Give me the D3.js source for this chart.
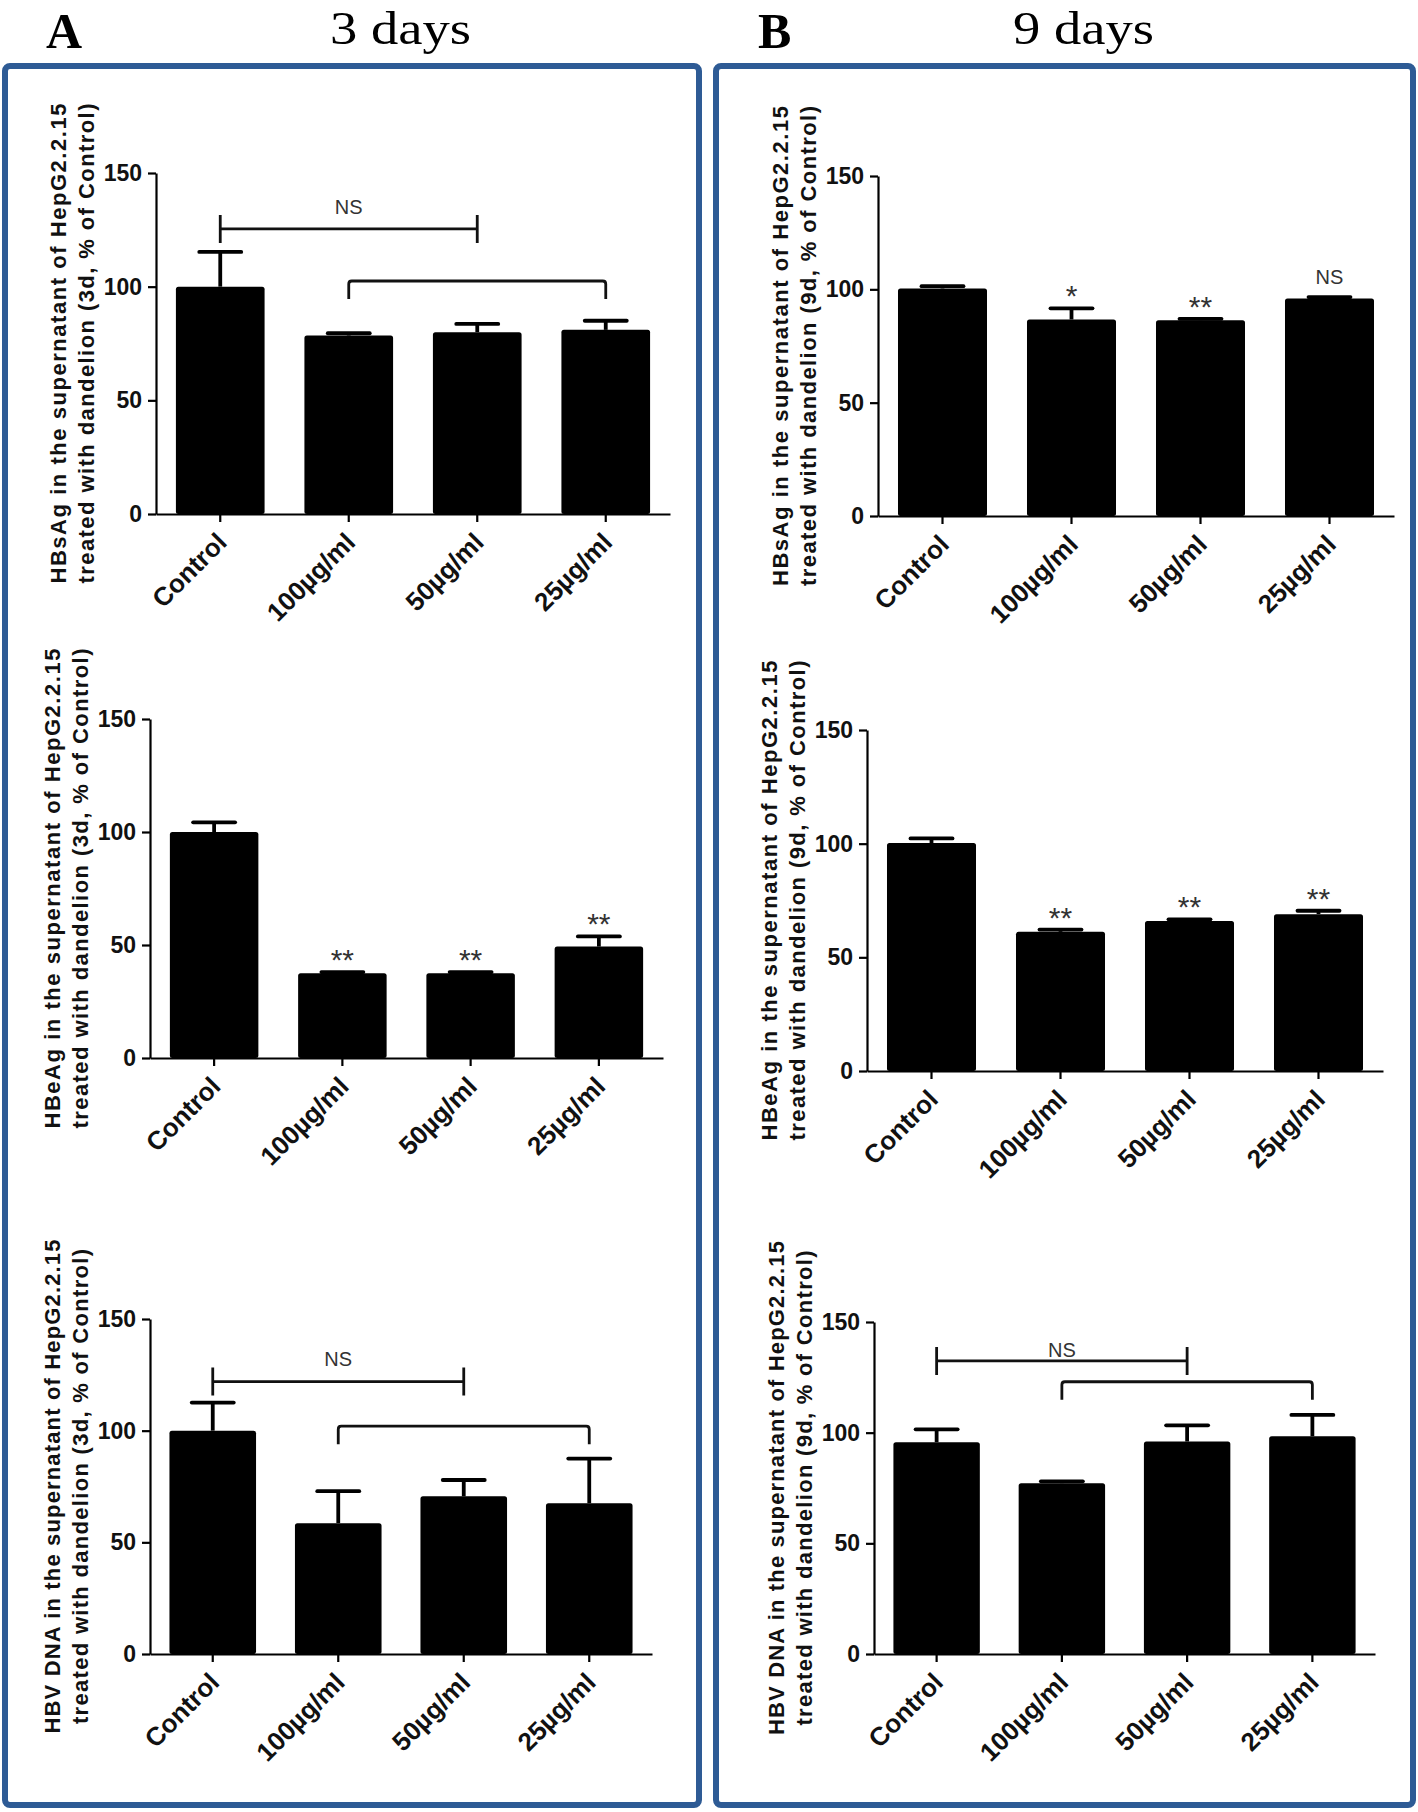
<!DOCTYPE html>
<html><head><meta charset="utf-8">
<script src="https://cdn.jsdelivr.net/npm/d3@7"></script>
<style>body{margin:0;background:#fff;} svg{display:block;}</style>
</head><body>
<svg id="fig" width="1418" height="1812"></svg>
<script>
// ---------------- data ----------------
const categories = ["Control", "100µg/ml", "50µg/ml", "25µg/ml"];
const yTicks = [0, 50, 100, 150];
const panelLetters = ["A", "B"];
const panelTitles = ["3 days", "9 days"];

const hbsag3dMean = [100, 78.5, 80, 81];
const hbsag3dErr  = [15.3, 1, 3.6, 4];
const hbsag9dMean = [100.4, 86.7, 86.4, 96];
const hbsag9dErr  = [1, 4.9, 0.6, 0.6];
const hbsag9dSig  = ["", "*", "**", "NS"];

const hbeag3dMean = [100, 37.5, 37.5, 49.3];
const hbeag3dErr  = [4.3, 0.5, 0.5, 4.5];
const hbeag3dSig  = ["", "**", "**", "**"];
const hbeag9dMean = [100.3, 61.2, 66, 69];
const hbeag9dErr  = [2, 1, 0.7, 1.5];
const hbeag9dSig  = ["", "**", "**", "**"];

const hbv3dMean = [100, 58.6, 70.6, 67.5];
const hbv3dErr  = [12.6, 14.3, 7.3, 20];
const hbv9dMean = [95.7, 77.2, 96, 98.4];
const hbv9dErr  = [5.8, 0.8, 7.3, 9.6];

const hbsag3dBrackets = [
  {from: "Control", to: "50µg/ml", value: 125.4, type: "ns", label: "NS", labelValue: 135},
  {from: "100µg/ml", to: "25µg/ml", value: 102.5, type: "group"}
];
const hbv3dBrackets = [
  {from: "Control", to: "50µg/ml", value: 122, type: "ns", label: "NS", labelValue: 132},
  {from: "100µg/ml", to: "25µg/ml", value: 102, type: "group"}
];
const hbv9dBrackets = [
  {from: "Control", to: "50µg/ml", value: 132.4, type: "ns", label: "NS", labelValue: 137.5},
  {from: "100µg/ml", to: "25µg/ml", value: 123, type: "group"}
];

const titleHBsAg3d = ["HBsAg in the supernatant of HepG2.2.15", "treated with dandelion (3d, % of Control)"];
const titleHBsAg9d = ["HBsAg in the supernatant of HepG2.2.15", "treated with dandelion (9d, % of Control)"];
const titleHBeAg3d = ["HBeAg in the supernatant of HepG2.2.15", "treated with dandelion (3d, % of Control)"];
const titleHBeAg9d = ["HBeAg in the supernatant of HepG2.2.15", "treated with dandelion (9d, % of Control)"];
const titleHBV3d   = ["HBV DNA in the supernatant of HepG2.2.15", "treated with dandelion (3d, % of Control)"];
const titleHBV9d   = ["HBV DNA in the supernatant of HepG2.2.15", "treated with dandelion (9d, % of Control)"];

// ---------------- layout ----------------
const SANS = "'Liberation Sans', Arial, Helvetica, sans-serif";
const SERIF = "'Liberation Serif', 'Times New Roman', serif";
const svg = d3.select("#fig");

const charts = [
  {left: 156, right: 670, top: 173, bottom: 514, mean: hbsag3dMean, err: hbsag3dErr, title: titleHBsAg3d, brackets: hbsag3dBrackets, tl: [480, 480]},
  {left: 150, right: 663, top: 719, bottom: 1058, mean: hbeag3dMean, err: hbeag3dErr, title: titleHBeAg3d, sig: hbeag3dSig, tl: [480, 480]},
  {left: 150, right: 652, top: 1319, bottom: 1654, mean: hbv3dMean, err: hbv3dErr, title: titleHBV3d, brackets: hbv3dBrackets, tl: [494, 475]},
  {left: 878, right: 1394, top: 176, bottom: 516, mean: hbsag9dMean, err: hbsag9dErr, title: titleHBsAg9d, sig: hbsag9dSig, tl: [480, 480]},
  {left: 867, right: 1383, top: 730, bottom: 1071, mean: hbeag9dMean, err: hbeag9dErr, title: titleHBeAg9d, sig: hbeag9dSig, tl: [480, 480]},
  {left: 874, right: 1375, top: 1322, bottom: 1654, mean: hbv9dMean, err: hbv9dErr, title: titleHBV9d, brackets: hbv9dBrackets, tl: [494, 475]}
];

// panel frames
const frames = [{x: 5, y: 66, w: 694, h: 1739}, {x: 716, y: 66, w: 697, h: 1739}];
svg.selectAll("rect.frame").data(frames).join("rect")
  .attr("class", "frame")
  .attr("x", d => d.x).attr("y", d => d.y).attr("width", d => d.w).attr("height", d => d.h)
  .attr("rx", 5).attr("fill", "none").attr("stroke", "#2e5b95").attr("stroke-width", 6);

// panel headings
const letterX = [46, 758], titleX = [330, 1013];
svg.selectAll("text.letter").data(panelLetters).join("text")
  .attr("x", (d, i) => letterX[i]).attr("y", 48)
  .attr("font-family", SERIF).attr("font-weight", "bold").attr("font-size", 50)
  .text(d => d);
svg.selectAll("text.ptitle").data(panelTitles).join("text")
  .attr("x", (d, i) => titleX[i]).attr("y", 44)
  .attr("font-family", SERIF).attr("font-size", 46)
  .attr("textLength", 141).attr("lengthAdjust", "spacingAndGlyphs")
  .text(d => d);

function drawChart(c) {
  const g = svg.append("g");
  const x = d3.scaleBand().domain(categories).range([c.left, c.right]).paddingInner(0.31).paddingOuter(0.155);
  const y = d3.scaleLinear().domain([0, 150]).range([c.bottom, c.top]);
  const cx = name => x(name) + x.bandwidth() / 2;
  const rows = categories.map((k, i) => ({k, m: c.mean[i], e: c.err[i], s: c.sig ? c.sig[i] : ""}));

  // bars
  g.selectAll("rect.bar").data(rows).join("rect")
    .attr("x", d => x(d.k)).attr("width", x.bandwidth())
    .attr("y", d => y(d.m)).attr("height", d => y(0) - y(d.m))
    .attr("rx", 2.5).attr("fill", "#000");

  // error bars (upper only)
  g.selectAll("line.ev").data(rows).join("line")
    .attr("x1", d => cx(d.k)).attr("x2", d => cx(d.k))
    .attr("y1", d => y(d.m)).attr("y2", d => y(d.m + d.e))
    .attr("stroke", "#000").attr("stroke-width", 3.8);
  g.selectAll("line.ec").data(rows).join("line")
    .attr("x1", d => cx(d.k) - 21).attr("x2", d => cx(d.k) + 21)
    .attr("y1", d => y(d.m + d.e)).attr("y2", d => y(d.m + d.e))
    .attr("stroke", "#000").attr("stroke-width", 3.8).attr("stroke-linecap", "round");

  // y axis
  const ya = g.append("g").attr("transform", `translate(${c.left},0)`)
    .call(d3.axisLeft(y).tickValues(yTicks).tickSize(8).tickSizeOuter(0).tickPadding(6));
  ya.select(".domain").attr("stroke-width", 2.2);
  ya.selectAll(".tick line").attr("stroke-width", 2.2);
  ya.selectAll(".tick text").attr("font-family", SANS).attr("font-weight", "bold")
    .attr("font-size", 23).attr("fill", "#111");

  // x axis
  const xa = g.append("g").attr("transform", `translate(0,${c.bottom})`)
    .call(d3.axisBottom(x).tickSize(8).tickSizeOuter(0).tickFormat(""));
  xa.select(".domain").attr("stroke-width", 2.2);
  xa.selectAll(".tick line").attr("stroke-width", 2.2);

  // x labels rotated
  g.selectAll("text.xl").data(categories).join("text")
    .attr("transform", d => `translate(${cx(d) + 8},${c.bottom + 30}) rotate(-45)`)
    .attr("text-anchor", "end")
    .attr("font-family", SANS).attr("font-weight", "bold").attr("font-size", 26).attr("fill", "#111")
    .text(d => d);

  // y title (two lines)
  const midY = (c.top + c.bottom) / 2;
  const offs = [90, 62];
  g.selectAll("text.yt").data(c.title).join("text")
    .attr("transform", (d, i) => `translate(${c.left - offs[i]},${midY}) rotate(-90)`)
    .attr("text-anchor", "middle")
    .attr("font-family", SANS).attr("font-weight", "bold").attr("font-size", 22).attr("fill", "#111")
    .attr("textLength", (d, i) => c.tl[i]).attr("lengthAdjust", "spacing")
    .text(d => d);

  // significance over bars
  if (c.sig) {
    g.selectAll("text.sig").data(rows.filter(r => r.s)).join("text")
      .attr("x", d => cx(d.k))
      .attr("y", d => y(d.m + d.e) - (d.s === "NS" ? 13 : 2))
      .attr("text-anchor", "middle").attr("font-family", SANS)
      .attr("font-size", d => d.s === "NS" ? 20 : 30).attr("fill", "#333")
      .text(d => d.s);
  }

  // brackets
  if (c.brackets) {
    c.brackets.forEach(b => {
      const x1 = cx(b.from), x2 = cx(b.to), yy = y(b.value);
      if (b.type === "ns") {
        const p = d3.path();
        p.moveTo(x1, yy); p.lineTo(x2, yy);
        p.moveTo(x1, yy - 14); p.lineTo(x1, yy + 14);
        p.moveTo(x2, yy - 14); p.lineTo(x2, yy + 14);
        g.append("path").attr("d", p.toString()).attr("fill", "none")
          .attr("stroke", "#111").attr("stroke-width", 2.8);
        g.append("text").attr("x", (x1 + x2) / 2).attr("y", y(b.labelValue))
          .attr("dominant-baseline", "central").attr("text-anchor", "middle")
          .attr("font-family", SANS).attr("font-size", 20).attr("fill", "#333")
          .text(b.label);
      } else {
        const p = d3.path();
        p.moveTo(x1, yy + 18); p.lineTo(x1, yy + 3);
        p.quadraticCurveTo(x1, yy, x1 + 3, yy);
        p.lineTo(x2 - 3, yy);
        p.quadraticCurveTo(x2, yy, x2, yy + 3);
        p.lineTo(x2, yy + 18);
        g.append("path").attr("d", p.toString()).attr("fill", "none")
          .attr("stroke", "#111").attr("stroke-width", 2.8);
      }
    });
  }
}

charts.forEach(drawChart);
</script>
</body></html>
